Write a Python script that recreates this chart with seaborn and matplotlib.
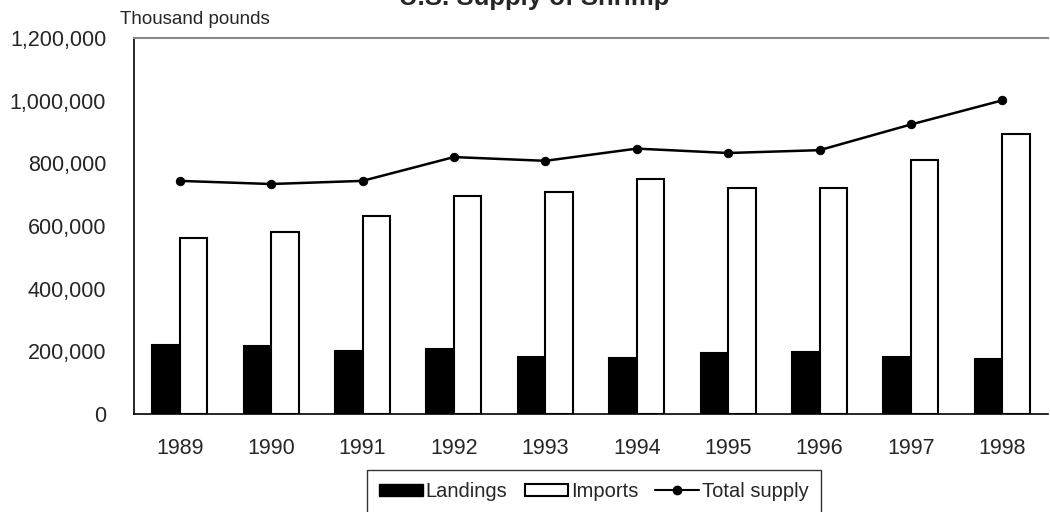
import numpy as np
import pandas as pd
import matplotlib
matplotlib.use("Agg")
import matplotlib.pyplot as plt
from matplotlib.patches import Patch
from matplotlib.lines import Line2D
from matplotlib.ticker import FuncFormatter
import seaborn as sns

# data (thousand pounds)
years = ["1989", "1990", "1991", "1992", "1993", "1994", "1995", "1996", "1997", "1998"]
landings = [220000, 217000, 200000, 208000, 183000, 178000, 194000, 199000, 183000, 176000]
imports = [563000, 580000, 632000, 695000, 708000, 751000, 720000, 722000, 811000, 893000]
total_supply = [744000, 734000, 744000, 820000, 808000, 847000, 833000, 842000, 924000, 1001000]

sns.set_style("white")
plt.rcParams['font.family'] = ['Liberation Sans', 'DejaVu Sans']

df = pd.DataFrame({
    'year': years * 2,
    'series': ['Landings'] * len(years) + ['Imports'] * len(years),
    'value': landings + imports,
})

fig = plt.figure(figsize=(10.5, 5.12), dpi=100)
ax = fig.add_axes([134 / 1050, 98 / 512, (1048 - 134) / 1050, (414 - 38) / 512])

sns.barplot(data=df, x='year', y='value', hue='series', order=years,
            hue_order=['Landings', 'Imports'],
            palette={'Landings': 'black', 'Imports': 'white'},
            edgecolor='black', linewidth=1.5, width=0.6, ax=ax, legend=False)

sns.lineplot(x=np.arange(len(years)), y=total_supply, color='black', marker='o',
             markersize=6, markeredgecolor='black', linewidth=1.8, ax=ax)

ax.set_xlim(-0.5, len(years) - 0.5)
ax.set_ylim(0, 1200000)
ax.set_yticks(np.arange(0, 1200001, 200000))
ax.yaxis.set_major_formatter(FuncFormatter(lambda v, p: f"{int(v):,}"))
ax.set_xticks(np.arange(len(years)))
ax.set_xticklabels(years)
ax.set_xticks(np.arange(-0.5, len(years), 1.0), minor=True)
ax.tick_params(axis='x', which='major', length=0, pad=17, labelsize=15.5)
ax.tick_params(axis='x', which='minor', length=12, direction='inout', width=1, color='black')
ax.tick_params(axis='y', length=10, direction='inout', width=1, color='black',
               labelsize=15.5, pad=15)
ax.set_xlabel('')
ax.set_ylabel('')

ax.spines['right'].set_visible(False)
ax.spines['top'].set_color('#888888')
ax.spines['top'].set_linewidth(1.5)
for side in ['left', 'bottom']:
    ax.spines[side].set_color('black')
    ax.spines[side].set_linewidth(1.2)

fig.text(120 / 1050, 1 - 19 / 512, 'Thousand pounds', fontsize=13.5, va='center', ha='left')
fig.text(534 / 1050, 1 - 5 / 512, 'U.S. Supply of Shrimp', fontsize=18.5, fontweight='bold',
         ha='center', va='baseline')

handles = [
    Patch(facecolor='black', edgecolor='black', label='Landings'),
    Patch(facecolor='white', edgecolor='black', linewidth=1.5, label='Imports'),
    Line2D([0], [0], color='black', marker='o', markersize=6, linewidth=1.5, label='Total supply'),
]
leg = fig.legend(handles=handles, loc='upper center', bbox_to_anchor=(594 / 1050, 1 - 470 / 512),
                 ncol=3, frameon=True, fontsize=14.5, handlelength=2.15, handleheight=0.6,
                 handletextpad=0.15, columnspacing=0.85, borderpad=0.6, borderaxespad=0,
                 fancybox=False)
leg.get_frame().set_edgecolor('black')
leg.get_frame().set_linewidth(1.0)

fig.savefig('out.png', dpi=100)
